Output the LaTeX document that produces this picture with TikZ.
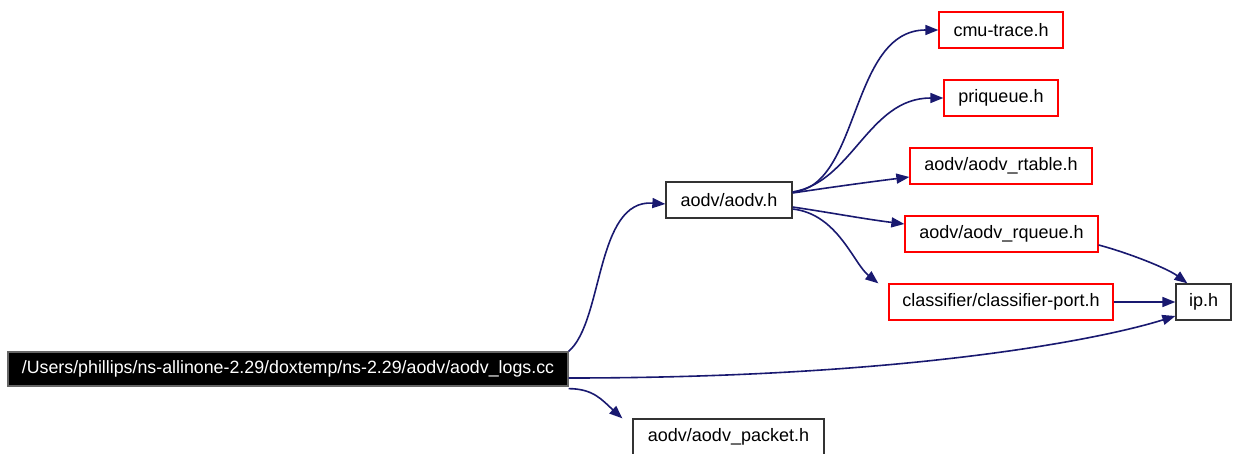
\documentclass[tikz,border=0pt]{standalone}
\usepackage{fontspec}
\setmainfont{Liberation Sans}
\usetikzlibrary{arrows.meta}
\definecolor{edgeblue}{HTML}{191970}
\tikzset{
  file/.style={draw=red, line width=1.3pt, fill=white, inner sep=0pt,
    minimum height=36pt, font=\fontsize{18}{21}\selectfont},
  known/.style={file, draw=black!80},
  root/.style={file, draw=black!60, fill=black, text=white, minimum height=34pt,
    font=\fontsize{17.8}{21}\selectfont},
  dep/.style={draw=edgeblue, line width=1.6pt, -{Triangle[length=13pt,width=10pt]}}
}
\begin{document}
\begin{tikzpicture}[x=1pt,y=-1pt]
  \useasboundingbox (0,0) rectangle (1233,454);
  % files
  \node[root,  minimum width=560pt] (logs)   at (288,369)    {/Users/phillips/ns-allinone-2.29/doxtemp/ns-2.29/aodv/aodv\_logs.cc};
  \node[known, minimum width=126pt] (aodv)   at (729,200)    {aodv/aodv.h};
  \node[file,  minimum width=124pt] (cmu)    at (1001,30)    {cmu-trace.h};
  \node[file,  minimum width=114pt] (pri)    at (1001,98)    {priqueue.h};
  \node[file,  minimum width=182pt] (rtable) at (1001,166)   {aodv/aodv\_rtable.h};
  \node[file,  minimum width=193pt] (rqueue) at (1001.5,234) {aodv/aodv\_rqueue.h};
  \node[file,  minimum width=224pt] (cport)  at (1001,302)   {classifier/classifier-port.h};
  \node[known, minimum width=55pt]  (ip)     at (1203.5,302) {ip.h};
  \node[known, minimum width=191pt] (packet) at (728.5,437)  {aodv/aodv\_packet.h};
  % include edges (yshift is in canvas direction: positive is up)
  \draw[dep] (logs.north east) .. controls +(35,-30) and +(-70,-5) .. ([yshift=-4pt]aodv.west);
  \draw[dep] ([yshift=-9pt]logs.east) .. controls +(330,0) and +(-80,25) .. ([yshift=-14pt]ip.west);
  \draw[dep] ([yshift=-2pt]logs.south east) .. controls +(25,0) and +(-20,-18) .. ([xshift=-10pt]packet.north west);
  \draw[dep] ([yshift=8pt]aodv.east) .. controls +(68,-5) and +(-89,0) .. (cmu.west);
  \draw[dep] ([yshift=8pt]aodv.east) .. controls +(60,-10) and +(-75,0) .. (pri.west);
  \draw[dep] ([yshift=7pt]aodv.east) .. controls +(40,-6) and +(-40,5) .. ([yshift=-11pt]rtable.west);
  \draw[dep] ([yshift=-7pt]aodv.east) .. controls +(40,6) and +(-40,-5) .. ([yshift=10pt]rqueue.west);
  \draw[dep] ([yshift=-9pt]aodv.east) .. controls +(45,5) and +(-25,-20) .. ([xshift=-10pt]cport.north west);
  \draw[dep] ([yshift=-11pt]rqueue.east) .. controls +(30,8) and +(-20,-15) .. ([xshift=12pt]ip.north west);
  \draw[dep] (cport.east) -- (ip.west);
\end{tikzpicture}
\end{document}
